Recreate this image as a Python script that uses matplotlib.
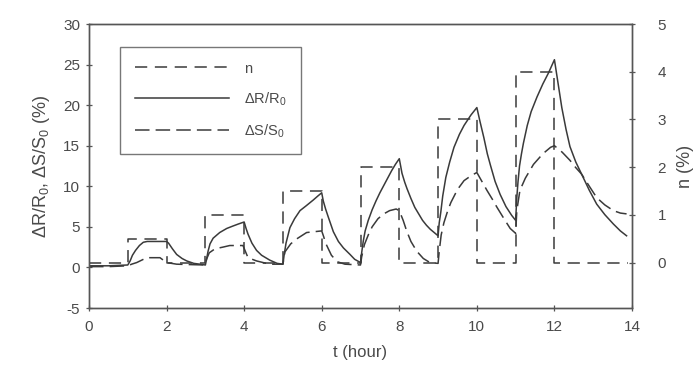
import matplotlib
matplotlib.use("Agg")
import matplotlib.pyplot as plt
from matplotlib.lines import Line2D

plt.rcParams['font.family'] = ['Liberation Sans', 'DejaVu Sans']
plt.rcParams['mathtext.fontset'] = 'custom'
plt.rcParams['mathtext.rm'] = 'Liberation Sans'
plt.rcParams['mathtext.it'] = 'Liberation Sans:italic'
plt.rcParams['axes.unicode_minus'] = False

# ---- data ----
n_t = [0, 1, 2, 3, 4, 5, 6, 7, 8, 9, 10, 11, 12, 13.9]
n_v = [0, 0.5, 0, 1, 0, 1.5, 0, 2, 0, 3, 0, 4, 0, 0]

r_t = [0, 0.5, 1.0, 1.06, 1.12, 1.2, 1.3, 1.4, 1.5, 2.0, 2.05, 2.15, 2.26, 2.4, 2.52, 2.7, 2.86, 3.0,
       3.03, 3.07, 3.12, 3.2, 3.37, 3.55, 3.71, 3.85, 4.0, 4.05, 4.1, 4.2, 4.32, 4.45, 4.66, 4.85, 5.0,
       5.03, 5.08, 5.18, 5.3, 5.44, 5.6, 5.78, 5.9, 6.0, 6.04, 6.1, 6.17, 6.3, 6.43, 6.56, 6.73, 6.85, 7.0,
       7.03, 7.07, 7.12, 7.2, 7.3, 7.4, 7.5, 7.6, 7.7, 7.8, 7.9, 8.0, 8.07, 8.14, 8.2, 8.3, 8.4, 8.5,
       8.6, 8.7, 8.8, 8.9, 9.0,
       9.03, 9.07, 9.12, 9.2, 9.3, 9.41, 9.55, 9.67, 9.85, 10.0, 10.08, 10.18, 10.27, 10.35, 10.47,
       10.6, 10.75, 10.9, 11.0,
       11.03, 11.06, 11.1, 11.15, 11.2, 11.3, 11.4, 11.55, 11.7, 11.85, 12.0, 12.1, 12.19, 12.3,
       12.4, 12.55, 12.7, 12.9, 13.09, 13.3, 13.52, 13.7, 13.86]
r_v = [0.2, 0.2, 0.3, 0.8, 1.5, 2.1, 2.7, 3.1, 3.2, 3.2, 3.0, 2.3, 1.6, 1.1, 0.8, 0.5, 0.4, 0.3,
       1.0, 2.0, 2.9, 3.6, 4.3, 4.8, 5.1, 5.35, 5.6, 4.8, 4.1, 3.0, 2.1, 1.5, 0.9, 0.5, 0.4,
       1.5, 3.0, 4.9, 6.0, 7.0, 7.6, 8.3, 8.8, 9.2, 8.2, 7.2, 6.2, 4.4, 3.2, 2.4, 1.6, 1.0, 0.6,
       1.8, 3.2, 4.5, 5.8, 7.1, 8.2, 9.2, 10.1, 11.0, 11.9, 12.7, 13.4, 11.6, 10.5, 9.7, 8.5, 7.4, 6.6,
       5.8, 5.2, 4.7, 4.3, 3.9,
       5.5, 6.8, 8.8, 11.1, 13.0, 14.8, 16.4, 17.5, 18.8, 19.7, 18.0, 16.0, 14.0, 12.6, 10.6,
       9.0, 7.5, 6.4, 5.8,
       8.6, 10.5, 12.5, 14.0, 15.3, 17.5, 19.2, 21.0, 22.6, 24.0, 25.6, 22.5, 19.7, 17.0,
       14.9, 13.0, 11.5, 9.5, 7.8, 6.5, 5.35, 4.5, 3.9]

s_t = [0, 0.5, 1.0, 1.1, 1.23, 1.49, 1.83, 2.0, 2.26, 2.6, 3.0,
       3.03, 3.1, 3.25, 3.45, 3.63, 3.97, 4.03, 4.1, 4.32, 4.66, 5.0,
       5.05, 5.2, 5.35, 5.61, 5.8, 6.0, 6.05, 6.1, 6.25, 6.4, 6.6, 7.0,
       7.03, 7.1, 7.2, 7.3, 7.45, 7.6, 7.75, 7.92, 8.0, 8.1, 8.19, 8.3, 8.45, 8.62, 8.79, 9.0,
       9.03, 9.08, 9.15, 9.25, 9.33, 9.5, 9.67, 9.85, 10.0, 10.13, 10.26, 10.4, 10.52, 10.7, 10.86, 11.0,
       11.03, 11.11, 11.25, 11.46, 11.7, 11.9, 12.0, 12.2, 12.4, 12.55, 12.7, 12.9, 13.09, 13.3,
       13.52, 13.7, 13.86]
s_v = [0.1, 0.1, 0.2, 0.4, 0.6, 1.2, 1.2, 0.6, 0.4, 0.35, 0.3,
       1.0, 1.8, 2.3, 2.5, 2.7, 2.7, 2.0, 1.2, 0.8, 0.4, 0.4,
       1.9, 2.9, 3.5, 4.3, 4.4, 4.5, 3.8, 3.0, 1.5, 0.7, 0.4, 0.3,
       1.3, 2.8, 4.0, 5.0, 6.0, 6.6, 7.0, 7.2, 7.0, 5.8, 4.5, 3.2, 2.0, 1.1, 0.6, 0.5,
       2.0, 4.0, 5.5, 7.0, 8.0, 9.6, 10.7, 11.3, 11.7, 10.6, 9.5, 8.4, 7.4, 6.0, 4.8, 4.2,
       7.0, 9.5, 11.0, 12.7, 14.0, 14.8, 15.0, 14.2, 13.2, 12.3, 11.5, 10.0, 8.6, 7.7,
       7.0, 6.7, 6.6]

x_ticks = [0, 2, 4, 6, 8, 10, 12, 14]
y_ticks = [-5, 0, 5, 10, 15, 20, 25, 30]
n_ticks = [0, 1, 2, 3, 4, 5]

# ---- styling ----
ink = '#3a3a3a'
txt = '#4a4a4a'
fs_tick = 11
fs_lab = 12

fig = plt.figure(figsize=(6.99, 3.78), dpi=100)
ax = fig.add_axes([89/699, 1-308/378, (632-89)/699, (308-24)/378])
ax2 = ax.twinx()

lR, = ax.plot(r_t, r_v, color=ink, lw=1.1, solid_joinstyle='round')
lS, = ax.plot(s_t, s_v, color=ink, lw=1.1, dashes=(9.5, 4))
lN, = ax2.plot(n_t, n_v, color=ink, lw=1.1, drawstyle='steps-post', dashes=(8, 5))

ax.set_xlim(0, 14)
ax.set_ylim(-5, 30)
ax2.set_ylim(-0.95, 5)
ax.set_xticks(x_ticks)
ax.set_yticks(y_ticks)
ax2.set_yticks(n_ticks)

for a in (ax, ax2):
    for sp in a.spines.values():
        sp.set_color('#555555')
        sp.set_linewidth(1.0)
    a.tick_params(direction='inout', length=5, width=0.9, color='#555555',
                  labelsize=fs_tick, labelcolor=txt)
ax.tick_params(axis='x', pad=6)
ax.tick_params(axis='y', pad=4)
ax2.tick_params(axis='y', pad=16)

ax.set_xlabel('t (hour)', fontsize=fs_lab, color=txt, labelpad=8)
ax.set_ylabel(r'ΔR/R$_0$, ΔS/S$_0$ (%)', fontsize=fs_lab + 1, color=txt, labelpad=8)
ax2.set_ylabel('n (%)', fontsize=fs_lab + 1, color=txt, labelpad=8)

handles = [Line2D([], [], color=ink, lw=1.1, dashes=(8, 5)),
           Line2D([], [], color=ink, lw=1.1),
           Line2D([], [], color=ink, lw=1.1, dashes=(9.5, 4))]
labels = ['n', r'ΔR/R$_0$', r'ΔS/S$_0$']
leg = ax.legend(handles, labels, loc='upper left', bbox_to_anchor=(31/543, 1-23/284),
                frameon=True, fancybox=False, edgecolor='#555555', fontsize=10.5,
                handlelength=6.5, handletextpad=1.0, labelspacing=1.0,
                borderpad=1.0, borderaxespad=0)
leg.get_frame().set_linewidth(1.0)
for t in leg.get_texts():
    t.set_color(txt)

fig.savefig('out.png', dpi=100, facecolor='white')
